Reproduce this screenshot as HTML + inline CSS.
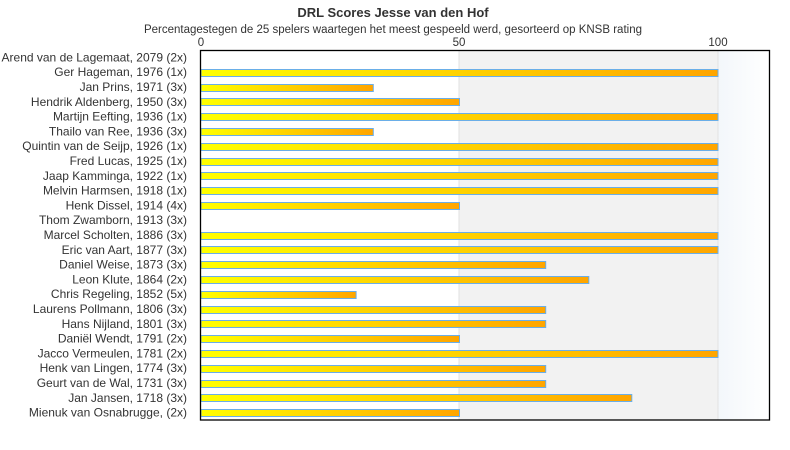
<!DOCTYPE html>
<html><head><meta charset="utf-8"><style>
html,body{margin:0;padding:0;background:#fff;}
svg{display:block;font-family:"Liberation Sans","DejaVu Sans",sans-serif;}
</style></head><body>
<svg width="790" height="450" viewBox="0 0 790 450" xmlns="http://www.w3.org/2000/svg">
<defs>
<linearGradient id="bar" x1="0" y1="0" x2="1" y2="0">
<stop offset="0" stop-color="#ffff00"/><stop offset="1" stop-color="#ffa500"/>
</linearGradient>
<linearGradient id="bg3" x1="0" y1="0" x2="1" y2="0">
<stop offset="0" stop-color="#f3f7fb"/><stop offset="1" stop-color="#ffffff"/>
</linearGradient>
</defs>
<text x="393" y="17" text-anchor="middle" font-size="13" font-weight="bold" fill="#333">DRL Scores Jesse van den Hof</text>
<text x="393" y="33" text-anchor="middle" font-size="11.5" fill="#333">Percentagestegen de 25 spelers waartegen het meest gespeeld werd, gesorteerd op KNSB rating</text>
<text x="201" y="46" text-anchor="middle" font-size="11.5" fill="#333">0</text>
<text x="459" y="46" text-anchor="middle" font-size="11.5" fill="#333">50</text>
<text x="718" y="46" text-anchor="middle" font-size="11.5" fill="#333">100</text>
<rect x="459" y="50" width="259" height="370" fill="#f2f2f2"/>
<rect x="718" y="50" width="52" height="370" fill="url(#bg3)"/>
<line x1="459" y1="50" x2="459" y2="420" stroke="#e2e2e2"/>
<line x1="718" y1="50" x2="718" y2="420" stroke="#e2e2e2"/>
<g id="bars" stroke="#6aaee8" stroke-width="1" fill="url(#bar)">
</g>
<g id="labels" font-size="12" fill="#333" text-anchor="end"></g>
<rect x="200.5" y="50.5" width="569" height="369.5" fill="none" stroke="#000" stroke-width="1.3"/>
<script>
var d=[["Arend van de Lagemaat, 2079 (2x)",0],["Ger Hageman, 1976 (1x)",100],["Jan Prins, 1971 (3x)",33.33],["Hendrik Aldenberg, 1950 (3x)",50],["Martijn Eefting, 1936 (1x)",100],["Thailo van Ree, 1936 (3x)",33.33],["Quintin van de Seijp, 1926 (1x)",100],["Fred Lucas, 1925 (1x)",100],["Jaap Kamminga, 1922 (1x)",100],["Melvin Harmsen, 1918 (1x)",100],["Henk Dissel, 1914 (4x)",50],["Thom Zwamborn, 1913 (3x)",0],["Marcel Scholten, 1886 (3x)",100],["Eric van Aart, 1877 (3x)",100],["Daniel Weise, 1873 (3x)",66.67],["Leon Klute, 1864 (2x)",75],["Chris Regeling, 1852 (5x)",30],["Laurens Pollmann, 1806 (3x)",66.67],["Hans Nijland, 1801 (3x)",66.67],["Daniël Wendt, 1791 (2x)",50],["Jacco Vermeulen, 1781 (2x)",100],["Henk van Lingen, 1774 (3x)",66.67],["Geurt van de Wal, 1731 (3x)",66.67],["Jan Jansen, 1718 (3x)",83.33],["Mienuk van Osnabrugge,  (2x)",50]];
var ns="http://www.w3.org/2000/svg",b=document.getElementById("bars"),l=document.getElementById("labels");
d.forEach(function(r,i){var c=50+14.8*(i+0.5);
var t=document.createElementNS(ns,"text");t.setAttribute("x",187);t.setAttribute("y",c+4);t.textContent=r[0];l.appendChild(t);
if(r[1]>0){var w=r[1]*5.17;var e=document.createElementNS(ns,"rect");e.setAttribute("x",201);e.setAttribute("y",(Math.round(c-3.5)+0.5));e.setAttribute("width",w.toFixed(1));e.setAttribute("height",7);b.appendChild(e);}
});
</script>
</svg>
</body></html>
